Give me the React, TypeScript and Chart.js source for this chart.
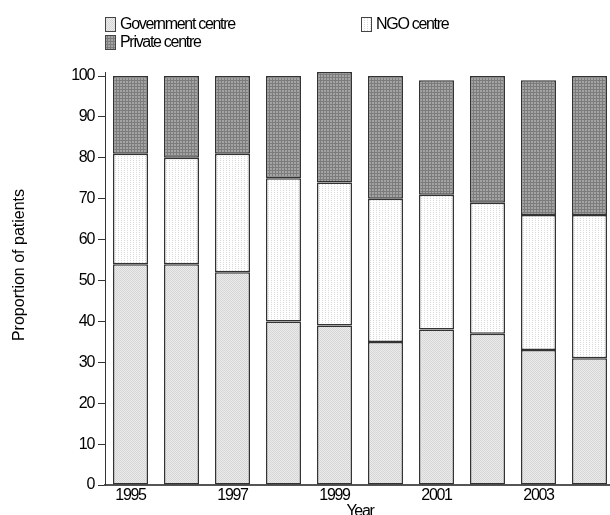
import React, { useEffect, useRef } from "react";
import { Chart, registerables } from "chart.js";

Chart.register(...registerables);

const years = ["1995", "1996", "1997", "1998", "1999", "2000", "2001", "2002", "2003", "2004"];
const government = [54, 54, 52, 40, 39, 35, 38, 37, 33, 31];
const ngo = [27, 26, 29, 35, 35, 35, 33, 32, 33, 35];
const privateCentre = [19, 20, 19, 25, 27, 30, 28, 31, 33, 34];
const seriesNames = ["Government centre", "NGO centre", "Private centre"];
const yTicks = [0, 10, 20, 30, 40, 50, 60, 70, 80, 90, 100];
const yTitle = "Proportion of patients";
const xTitle = "Year";

const FONT = '"Liberation Sans", Arial, sans-serif';
const SPACING = "-1.3px";

function makePattern(w: number, h: number, base: string, dots: [number, number, string][]) {
  const c = document.createElement("canvas");
  c.width = w;
  c.height = h;
  const g = c.getContext("2d")!;
  g.fillStyle = base;
  g.fillRect(0, 0, w, h);
  dots.forEach(([x, y, col]) => {
    g.fillStyle = col;
    g.fillRect(x, y, 1, 1);
  });
  return g.createPattern(c, "repeat")!;
}

export default function App() {
  const ref = useRef<HTMLCanvasElement>(null);

  useEffect(() => {
    const canvas = ref.current!;
    const patGov = makePattern(2, 2, "#ebebeb", [
      [0, 0, "#d6d6d6"],
      [1, 1, "#d6d6d6"],
    ]);
    const patNgo = makePattern(3, 2, "#ffffff", [[1, 0, "#dadada"]]);
    const patPriv = makePattern(3, 3, "#7c7c7c", [
      [0, 0, "#a4a4a4"],
      [1, 0, "#a4a4a4"],
      [0, 1, "#a4a4a4"],
      [1, 1, "#a4a4a4"],
    ]);
    const patterns = [patGov, patNgo, patPriv];

    const legendItems = [
      { i: 0, x: 105, y: 17 },
      { i: 1, x: 361, y: 17 },
      { i: 2, x: 105, y: 35 },
    ];

    const plugin = {
      id: "custom",
      beforeUpdate(chart: any) {
        chart.ctx.letterSpacing = SPACING;
      },
      beforeDraw(chart: any) {
        chart.ctx.letterSpacing = SPACING;
      },
      afterDraw(chart: any) {
        const ctx = chart.ctx as CanvasRenderingContext2D;
        const area = chart.chartArea;
        // y title
        ctx.save();
        (ctx as any).letterSpacing = "0px";
        ctx.font = `16px ${FONT}`;
        ctx.fillStyle = "#000";
        ctx.translate(20, 265);
        ctx.rotate(-Math.PI / 2);
        ctx.textAlign = "center";
        ctx.textBaseline = "middle";
        ctx.fillText(yTitle, 0, 0);
        ctx.restore();
        // x title
        ctx.save();
        (ctx as any).letterSpacing = SPACING;
        ctx.font = `16px ${FONT}`;
        ctx.fillStyle = "#000";
        ctx.textAlign = "center";
        ctx.textBaseline = "top";
        ctx.fillText(xTitle, (area.left + area.right) / 2, 504);
        ctx.restore();
        // legend
        ctx.save();
        (ctx as any).letterSpacing = SPACING;
        ctx.font = `16px ${FONT}`;
        ctx.textAlign = "left";
        ctx.textBaseline = "middle";
        legendItems.forEach((it) => {
          ctx.fillStyle = patterns[it.i];
          ctx.fillRect(it.x, it.y, 10, 14);
          ctx.strokeStyle = "#444";
          ctx.lineWidth = 1;
          ctx.strokeRect(it.x + 0.5, it.y + 0.5, 10, 14);
          ctx.fillStyle = "#000";
          ctx.fillText(seriesNames[it.i], it.x + 15, it.y + 8);
        });
        ctx.restore();
      },
    };

    const mk = (label: string, data: number[], bg: any) => ({
      label,
      data,
      backgroundColor: bg,
      borderColor: "#333",
      borderWidth: 1.5,
      borderSkipped: false as const,
      barPercentage: 0.686,
      categoryPercentage: 1,
      clip: false as const,
    });

    const chart = new Chart(canvas, {
      type: "bar",
      data: {
        labels: years,
        datasets: [
          mk(seriesNames[0], government, patGov),
          mk(seriesNames[1], ngo, patNgo),
          mk(seriesNames[2], privateCentre, patPriv),
        ],
      },
      options: {
        responsive: false,
        animation: false,
        devicePixelRatio: 1,
        layout: { padding: { top: 72, right: 5, left: 0, bottom: 0 } },
        plugins: { legend: { display: false }, tooltip: { enabled: false }, title: { display: false } },
        scales: {
          x: {
            stacked: true,
            grid: { display: false, drawTicks: false, tickLength: 0 },
            border: { display: true, color: "#555", width: 2 },
            ticks: {
              autoSkip: false,
              maxRotation: 0,
              padding: 1,
              color: "#000",
              font: { size: 16, family: FONT },
              callback: (_v: any, i: number) => (i % 2 === 0 ? years[i] : ""),
            },
            afterFit: (s: any) => {
              s.height = 30;
            },
          },
          y: {
            stacked: true,
            min: 0,
            max: 101,
            grid: { display: true, drawOnChartArea: false, drawTicks: true, tickLength: 7, color: "#333", lineWidth: 1 },
            border: { display: true, color: "#333", width: 1 },
            afterBuildTicks: (s: any) => {
              s.ticks = yTicks.map((v) => ({ value: v }));
            },
            ticks: {
              includeBounds: false,
              padding: 4,
              color: "#000",
              font: { size: 16, family: FONT },
            },
            afterFit: (s: any) => {
              s.width = 105;
            },
          },
        },
      },
      plugins: [plugin],
    });
    return () => chart.destroy();
  }, []);

  return (
    <div style={{ position: "fixed", left: 0, top: 0, width: 610, height: 515, overflow: "hidden", background: "#fff" }}>
      <canvas ref={ref} width={620} height={515} style={{ display: "block", width: 620, height: 515 }} />
    </div>
  );
}
